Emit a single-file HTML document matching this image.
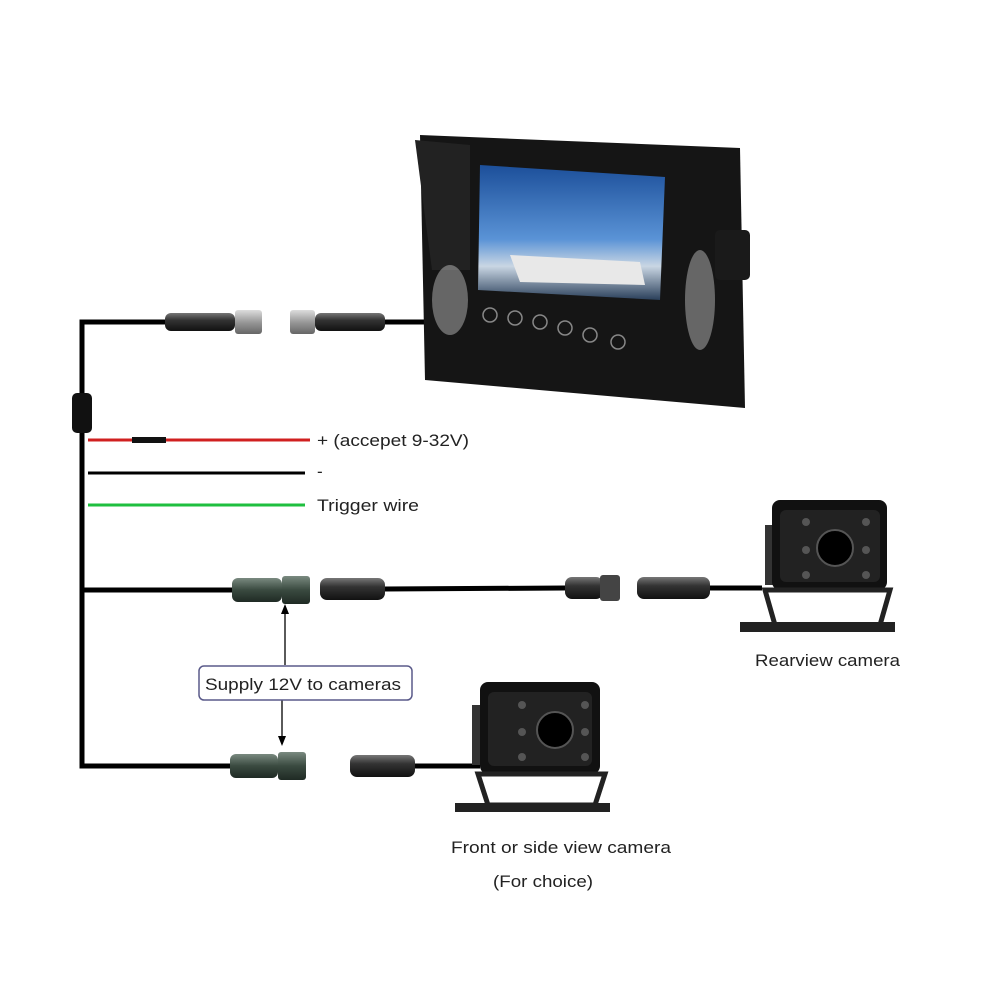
<!DOCTYPE html>
<html><head><meta charset="utf-8"><style>
html,body{margin:0;padding:0;background:#fff;}
svg{display:block;}
text{font-family:"Liberation Sans",sans-serif;font-size:17px;fill:#222;}
</style></head><body>
<svg width="1000" height="1000" viewBox="0 0 1000 1000" xmlns="http://www.w3.org/2000/svg">
<defs>
<linearGradient id="conn" x1="0" y1="0" x2="0" y2="1">
<stop offset="0" stop-color="#777"/><stop offset="0.4" stop-color="#333"/><stop offset="1" stop-color="#111"/></linearGradient>
<linearGradient id="gconn" x1="0" y1="0" x2="0" y2="1">
<stop offset="0" stop-color="#7a8a80"/><stop offset="0.5" stop-color="#3a4a40"/><stop offset="1" stop-color="#1f2a24"/></linearGradient>
<linearGradient id="metal" x1="0" y1="0" x2="0" y2="1">
<stop offset="0" stop-color="#ddd"/><stop offset="0.5" stop-color="#999"/><stop offset="1" stop-color="#666"/></linearGradient>
<linearGradient id="scr" x1="0" y1="0" x2="0" y2="1">
<stop offset="0" stop-color="#1c4f9a"/><stop offset="0.55" stop-color="#5a93d6"/><stop offset="0.75" stop-color="#c9d6e3"/><stop offset="1" stop-color="#2a3f5a"/></linearGradient>
</defs>

<g stroke="#000" stroke-width="5" fill="none">
<polyline points="170,322 82,322 82,766 232,766"/>
<line x1="82" y1="590" x2="235" y2="590"/>
<line x1="385" y1="322" x2="447" y2="322"/>
<line x1="385" y1="589" x2="565" y2="588"/>
<line x1="710" y1="588" x2="762" y2="588"/>
<line x1="415" y1="766" x2="480" y2="766"/>
</g>
<rect x="72" y="393" width="20" height="40" rx="5" fill="#111"/>
<line x1="88" y1="440" x2="310" y2="440" stroke="#d02020" stroke-width="3"/>
<rect x="132" y="437" width="34" height="6" fill="#111"/>
<line x1="88" y1="473" x2="305" y2="473" stroke="#000" stroke-width="3"/>
<line x1="88" y1="505" x2="305" y2="505" stroke="#1fbf3f" stroke-width="3"/>

<rect x="165" y="313" width="70" height="18" rx="6" fill="url(#conn)"/>
<rect x="235" y="310" width="27" height="24" rx="3" fill="url(#metal)"/>
<rect x="290" y="310" width="25" height="24" rx="3" fill="url(#metal)"/>
<rect x="315" y="313" width="70" height="18" rx="6" fill="url(#conn)"/>
<rect x="232" y="578" width="50" height="24" rx="6" fill="url(#gconn)"/>
<rect x="282" y="576" width="28" height="28" rx="3" fill="url(#gconn)"/>
<rect x="320" y="578" width="65" height="22" rx="7" fill="url(#conn)"/>
<rect x="565" y="577" width="38" height="22" rx="7" fill="url(#conn)"/>
<rect x="600" y="575" width="20" height="26" rx="3" fill="#444"/>
<rect x="637" y="577" width="73" height="22" rx="7" fill="url(#conn)"/>
<rect x="230" y="754" width="48" height="24" rx="6" fill="url(#gconn)"/>
<rect x="278" y="752" width="28" height="28" rx="3" fill="url(#gconn)"/>
<rect x="350" y="755" width="65" height="22" rx="7" fill="url(#conn)"/>

<g stroke="#000" stroke-width="1.3">
<line x1="285" y1="665" x2="285" y2="608"/>
<line x1="282" y1="700" x2="282" y2="742"/>
</g>
<polygon points="285,604 281,614 289,614" fill="#000"/>
<polygon points="282,746 278,736 286,736" fill="#000"/>
<rect x="199" y="666" width="213" height="34" rx="5" fill="#fff" stroke="#5a5a8a" stroke-width="1.5"/>
<text x="205" y="690" textLength="196" lengthAdjust="spacingAndGlyphs">Supply 12V to cameras</text>

<text x="317" y="446" textLength="152" lengthAdjust="spacingAndGlyphs">+ (accepet 9-32V)</text>
<text x="317" y="477">-</text>
<text x="317" y="511" textLength="102" lengthAdjust="spacingAndGlyphs">Trigger wire</text>
<text x="755" y="666" textLength="145" lengthAdjust="spacingAndGlyphs">Rearview camera</text>
<text x="451" y="853" textLength="220" lengthAdjust="spacingAndGlyphs">Front or side view camera</text>
<text x="493" y="887" textLength="100" lengthAdjust="spacingAndGlyphs">(For choice)</text>

<polygon points="420,135 740,148 745,408 425,380" fill="#151515"/>
<polygon points="415,140 470,145 470,270 432,270" fill="#222"/>
<rect x="715" y="230" width="35" height="50" rx="5" fill="#1a1a1a"/>
<polygon points="480,165 665,177 660,300 478,290" fill="url(#scr)"/>
<polygon points="510,255 640,262 645,285 520,282" fill="#e8e8e8"/>
<g fill="none" stroke="#888" stroke-width="1.5">
<circle cx="490" cy="315" r="7"/><circle cx="515" cy="318" r="7"/><circle cx="540" cy="322" r="7"/>
<circle cx="565" cy="328" r="7"/><circle cx="590" cy="335" r="7"/><circle cx="618" cy="342" r="7"/>
</g>
<g fill="#ffffff" opacity="0.35">
<ellipse cx="450" cy="300" rx="18" ry="35"/><ellipse cx="700" cy="300" rx="15" ry="50"/>
</g>

<g>
<rect x="765" y="525" width="20" height="60" fill="#333"/>
<rect x="772" y="500" width="115" height="90" rx="8" fill="#111"/>
<rect x="780" y="510" width="100" height="72" rx="6" fill="#222"/>
<circle cx="835" cy="548" r="18" fill="#000" stroke="#555" stroke-width="2"/>
<g fill="#555"><circle cx="806" cy="522" r="4"/><circle cx="806" cy="550" r="4"/><circle cx="806" cy="575" r="4"/><circle cx="866" cy="522" r="4"/><circle cx="866" cy="550" r="4"/><circle cx="866" cy="575" r="4"/></g>
<polygon points="765,590 890,590 880,625 775,625" fill="none" stroke="#222" stroke-width="5"/>
<rect x="740" y="622" width="155" height="10" fill="#222"/>
</g>
<g>
<rect x="472" y="705" width="20" height="60" fill="#333"/>
<rect x="480" y="682" width="120" height="92" rx="8" fill="#111"/>
<rect x="488" y="692" width="104" height="74" rx="6" fill="#222"/>
<circle cx="555" cy="730" r="18" fill="#000" stroke="#555" stroke-width="2"/>
<g fill="#555"><circle cx="522" cy="705" r="4"/><circle cx="522" cy="732" r="4"/><circle cx="522" cy="757" r="4"/><circle cx="585" cy="705" r="4"/><circle cx="585" cy="732" r="4"/><circle cx="585" cy="757" r="4"/></g>
<polygon points="478,774 605,774 595,805 488,805" fill="none" stroke="#222" stroke-width="5"/>
<rect x="455" y="803" width="155" height="9" fill="#222"/>
</g>
</svg>
</body></html>
